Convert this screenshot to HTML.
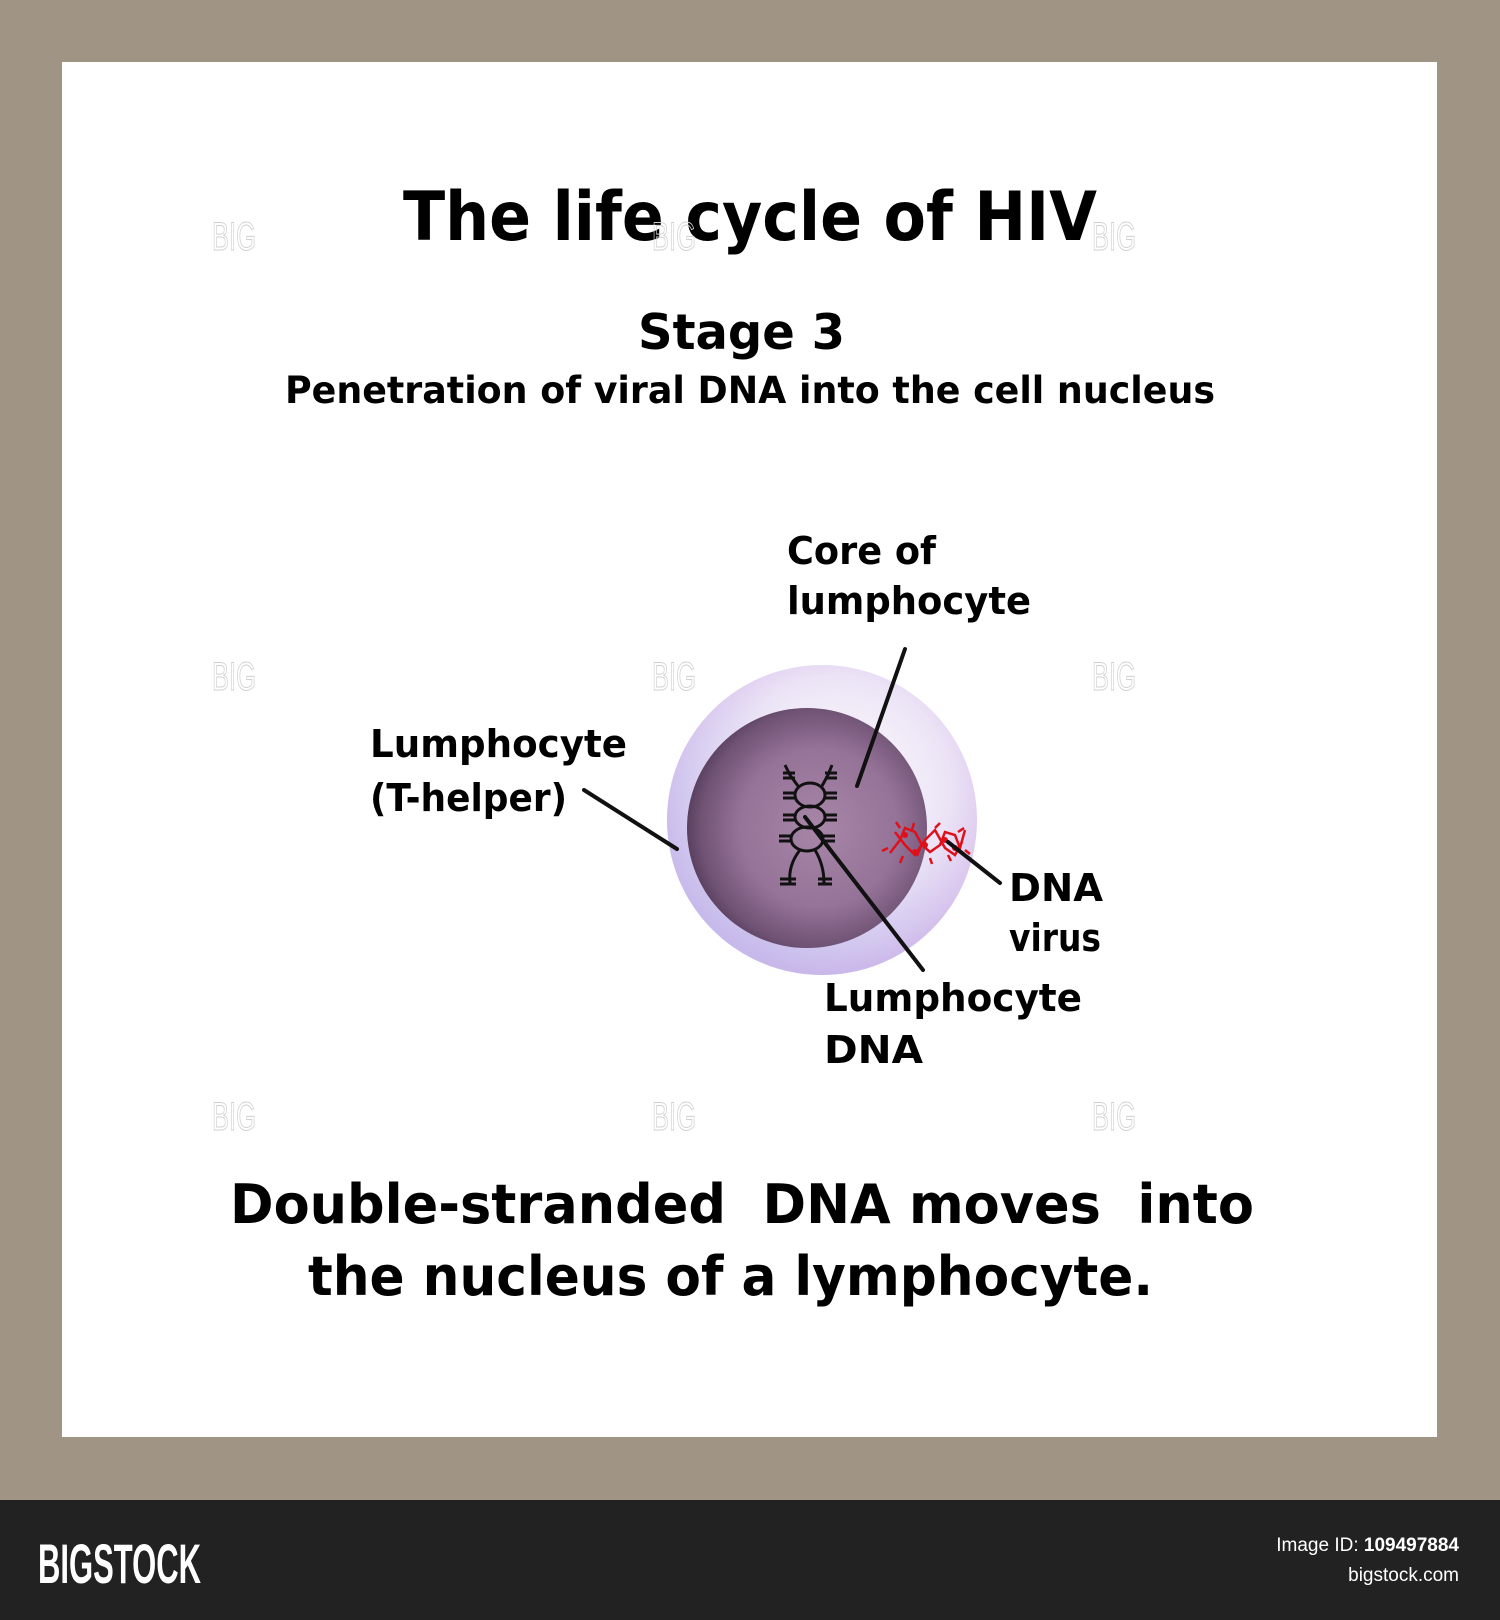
<!DOCTYPE html>
<html><head><meta charset="utf-8"><style>
html,body{margin:0;padding:0;width:1500px;height:1620px;overflow:hidden;background:#a09584}
svg{display:block}
</style></head><body>
<svg width="1500" height="1620" viewBox="0 0 1500 1620" xmlns="http://www.w3.org/2000/svg">
<defs>
<radialGradient id="outer" cx="0.55" cy="0.4" r="0.6">
<stop offset="0" stop-color="#ffffff"/>
<stop offset="0.6" stop-color="#ece4f6"/>
<stop offset="0.85" stop-color="#dcc6ee"/>
<stop offset="1" stop-color="#d4ace6"/>
</radialGradient>
<linearGradient id="blue" x1="0" y1="1" x2="0.6" y2="0.3">
<stop offset="0" stop-color="#b8c8f0" stop-opacity="0.6"/>
<stop offset="1" stop-color="#b8c8f0" stop-opacity="0"/>
</linearGradient>
<radialGradient id="inner" cx="0.55" cy="0.5" r="0.55">
<stop offset="0" stop-color="#a886a8"/>
<stop offset="0.6" stop-color="#957398"/>
<stop offset="0.9" stop-color="#6f5274"/>
<stop offset="1" stop-color="#5a405f"/>
</radialGradient>
</defs>
<rect x="0" y="0" width="1500" height="1500" fill="#a09584"/>
<rect x="62" y="62" width="1375" height="1375" fill="#ffffff"/>
<rect x="0" y="1500" width="1500" height="120" fill="#222222"/>

<g font-family="'DejaVu Sans', 'Liberation Sans', sans-serif" fill="#000">
<text x="403" y="240" font-size="68" font-weight="bold" textLength="694" lengthAdjust="spacingAndGlyphs">The life cycle of HIV</text>
<text x="638" y="349" font-size="49" font-weight="bold" textLength="207" lengthAdjust="spacingAndGlyphs">Stage 3</text>
<text x="285" y="403" font-size="37" font-weight="bold" textLength="930" lengthAdjust="spacingAndGlyphs">Penetration of viral DNA into the cell nucleus</text>
<text x="787" y="564" font-size="38" font-weight="bold" textLength="149" lengthAdjust="spacingAndGlyphs">Core of</text>
<text x="787" y="614" font-size="38" font-weight="bold" textLength="244" lengthAdjust="spacingAndGlyphs">lumphocyte</text>
<text x="370" y="757" font-size="38" font-weight="bold" textLength="257" lengthAdjust="spacingAndGlyphs">Lumphocyte</text>
<text x="370" y="811" font-size="38" font-weight="bold" textLength="197" lengthAdjust="spacingAndGlyphs">(T-helper)</text>
<text x="1009" y="901" font-size="38" font-weight="bold" textLength="94" lengthAdjust="spacingAndGlyphs">DNA</text>
<text x="1009" y="951" font-size="38" font-weight="bold" textLength="92" lengthAdjust="spacingAndGlyphs">virus</text>
<text x="824" y="1011" font-size="38" font-weight="bold" textLength="258" lengthAdjust="spacingAndGlyphs">Lumphocyte</text>
<text x="824" y="1063" font-size="38" font-weight="bold" textLength="99" lengthAdjust="spacingAndGlyphs">DNA</text>
<text x="230" y="1223" font-size="54" font-weight="bold" textLength="1024" lengthAdjust="spacingAndGlyphs" xml:space="preserve">Double-stranded  DNA moves  into</text>
<text x="308" y="1295" font-size="54" font-weight="bold" textLength="845" lengthAdjust="spacingAndGlyphs">the nucleus of a lymphocyte.</text>
</g>

<g font-family="'Liberation Sans', sans-serif" font-size="40" fill="none" stroke="#d0d0d0" stroke-width="1">
<text x="212" y="250" textLength="44" lengthAdjust="spacingAndGlyphs">BIG</text>
<text x="652" y="250" textLength="44" lengthAdjust="spacingAndGlyphs">BIG</text>
<text x="1092" y="250" textLength="44" lengthAdjust="spacingAndGlyphs">BIG</text>
<text x="212" y="690" textLength="44" lengthAdjust="spacingAndGlyphs">BIG</text>
<text x="652" y="690" textLength="44" lengthAdjust="spacingAndGlyphs">BIG</text>
<text x="1092" y="690" textLength="44" lengthAdjust="spacingAndGlyphs">BIG</text>
<text x="212" y="1130" textLength="44" lengthAdjust="spacingAndGlyphs">BIG</text>
<text x="652" y="1130" textLength="44" lengthAdjust="spacingAndGlyphs">BIG</text>
<text x="1092" y="1130" textLength="44" lengthAdjust="spacingAndGlyphs">BIG</text>
</g>

<circle cx="822" cy="820" r="155" fill="url(#outer)"/>
<circle cx="822" cy="820" r="155" fill="url(#blue)"/>
<circle cx="807" cy="828" r="120" fill="url(#inner)"/>

<g stroke="#111" stroke-width="3" fill="none">
<ellipse cx="810" cy="795" rx="15" ry="12"/>
<ellipse cx="810" cy="817" rx="15" ry="11"/>
<ellipse cx="807" cy="839" rx="16" ry="12"/>
<path d="M798 786 L790 775 L785 765 M822 786 L828 775 L832 765"/>
<path d="M800 850 Q788 865 790 883 M815 850 Q824 865 824 883"/>
<path d="M795 773 h-12 M795 778 h-12 M825 773 h12 M825 778 h12"/>
<path d="M795 793 h-12 M795 798 h-12 M825 793 h12 M825 798 h12"/>
<path d="M795 815 h-12 M795 820 h-12 M825 815 h12 M825 820 h12"/>
<path d="M791 836 h-12 M791 841 h-12 M823 836 h12 M823 841 h12"/>
<path d="M796 879 h-16 M796 884 h-16 M818 879 h14 M818 884 h14"/>
</g>

<g stroke="#e0101a" stroke-width="2.5" fill="none">
<path d="M890 853 L900 840 L905 828 L915 832 L922 845 L930 852 L940 845 L945 832 L955 835 L960 848 L965 830"/>
<path d="M895 832 L905 845 L915 855 L925 840 L935 830 L945 848 L955 855 L962 842"/>
<path d="M900 828 l-4 -6 M912 830 l2 -7 M920 848 l-3 8 M935 828 l5 -5 M948 855 l3 6 M958 832 l6 -4 M888 848 l-6 3 M903 856 l-3 7 M930 858 l2 6 M965 850 l5 4"/>
</g>
<g fill="#e0101a">
<circle cx="905" cy="835" r="3"/><circle cx="925" cy="845" r="3"/><circle cx="945" cy="840" r="3"/><circle cx="915" cy="852" r="3"/><circle cx="955" cy="848" r="3"/>
</g>

<g stroke="#111" stroke-width="4" stroke-linecap="round">
<line x1="905" y1="649" x2="857" y2="786"/>
<line x1="584" y1="790" x2="677" y2="849"/>
<line x1="948" y1="842" x2="1000" y2="883"/>
<line x1="805" y1="817" x2="923" y2="970"/>
</g>

<text x="38" y="1583" font-family="'Liberation Sans', sans-serif" font-size="56" font-weight="bold" fill="#fff" textLength="163" lengthAdjust="spacingAndGlyphs">BIGSTOCK</text>
<text x="1459" y="1551" text-anchor="end" font-family="'Liberation Sans', sans-serif" font-size="19" fill="#fff">Image ID: <tspan font-weight="bold">109497884</tspan></text>
<text x="1459" y="1581" text-anchor="end" font-family="'Liberation Sans', sans-serif" font-size="19" fill="#fff">bigstock.com</text>
</svg>
</body></html>
